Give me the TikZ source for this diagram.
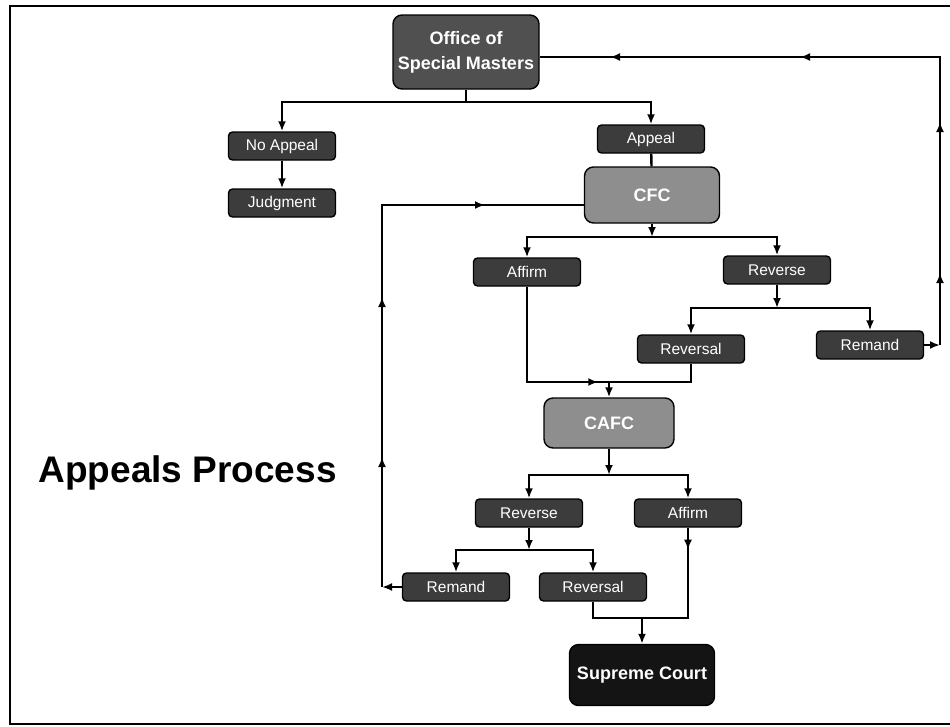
\documentclass[tikz,border=0pt]{standalone}
\usepackage{fontspec}
\setmainfont{Liberation Sans}
\usetikzlibrary{arrows.meta,decorations.markings}
\definecolor{darkbox}{HTML}{3C3C3C}
\definecolor{osmgray}{HTML}{505050}
\definecolor{courtgray}{HTML}{8E8E8E}
\definecolor{topcourt}{HTML}{141414}
\tikzstyle{box}=[draw=black, line width=1.4pt, text=white, inner sep=0pt, align=center]
\tikzstyle{small}=[box, fill=darkbox, rounded corners=4pt, minimum width=107pt, minimum height=28pt, font=\fontsize{15.5}{18}\selectfont]
\tikzstyle{court}=[box, rounded corners=9pt, font=\bfseries\fontsize{18}{25}\selectfont]
\tikzstyle{link}=[line width=2.4pt]
\tikzset{tip/.style={postaction={decorate,decoration={markings,mark=at position #1 with {\arrow{>}}}}}}

\begin{document}
\begin{tikzpicture}[x=1pt, y=-1pt, >={Latex[length=10pt,width=8pt]}]
\useasboundingbox (0,0) rectangle (950,726);
\draw[line width=2.6pt] (950,6) -- (10,6) -- (10,724) -- (950,724);
\draw (35,482) node[anchor=base west, font=\bfseries\fontsize{37}{44}\selectfont] (T) {Appeals Process};

\draw (466,52) node[court, fill=osmgray, minimum width=146pt, minimum height=74pt] (OSM) {Office of\\Special Masters};
\draw (282,146) node[small] (NA) {No Appeal};
\draw (282,203) node[small] (J) {Judgment};
\draw (651,139) node[small] (A) {Appeal};
\draw (652,195) node[court, fill=courtgray, minimum width=135pt, minimum height=56pt] (CFC) {CFC};
\draw (527,272) node[small] (AF1) {Affirm};
\draw (777,270) node[small] (RV1) {Reverse};
\draw (691,349) node[small] (RL1) {Reversal};
\draw (870,345) node[small] (RM1) {Remand};
\draw (609,423) node[court, fill=courtgray, minimum width=130pt, minimum height=50pt] (CAFC) {CAFC};
\draw (529,513) node[small] (RV2) {Reverse};
\draw (688,513) node[small] (AF2) {Affirm};
\draw (456,587) node[small] (RM2) {Remand};
\draw (593,587) node[small] (RL2) {Reversal};
\draw (642,675) node[court, fill=topcourt, minimum width=145pt, minimum height=61pt] (SC) {Supreme Court};

% splits and merges
\coordinate (S1) at (466,102);
\coordinate (S2) at (652,237);
\coordinate (S3) at (777,308);
\coordinate (M1) at (609,382);
\coordinate (S4) at (609,475);
\coordinate (S5) at (529,550);
\coordinate (M2) at (642,618);

\draw[link] (OSM) -- (S1);
\draw[link,->] (S1) -| (NA);
\draw[link,->] (S1) -| (A);
\draw[link,->] (NA) -- (J);
\draw[link] (A) -- (CFC);

\draw[link,->] (CFC) -- (S2);
\draw[link,->] (S2) -| (AF1);
\draw[link,->] (S2) -| (RV1);
\draw[link,->] (RV1) -- (S3);
\draw[link,->] (S3) -| (RL1);
\draw[link,->] (S3) -| (RM1);
\draw[link,tip=0.6] (AF1) -- (AF1 |- M1) -- (RL1 |- M1) -- (RL1);
\draw[link,->] (M1) -- (CAFC);

\draw[link,->] (CAFC) -- (S4);
\draw[link,->] (S4) -| (RV2);
\draw[link,->] (S4) -| (AF2);
\draw[link,->] (RV2) -- (S5);
\draw[link,->] (S5) -| (RM2);
\draw[link,->] (S5) -| (RL2);
\draw[link,tip=22pt] (AF2) -- (AF2 |- M2) -- (RL2 |- M2) -- (RL2);
\draw[link,->] (M2) -- (SC);

% remand loops
\coordinate (R1) at (940,345);
\coordinate (R2) at (940,57);
\draw[link,->] (RM1) -- (R1);
\draw[link,tip=72pt,tip=223pt,tip=428pt,tip=618pt] (R1) -- (R2) -- (R2 -| OSM.east);
\coordinate (L1) at (382,587);
\coordinate (L2) at (382,205);
\draw[link,->] (RM2) -- (L1);
\draw[link,tip=130pt,tip=290pt,tip=485pt] (L1) -- (L2) -- (L2 -| CFC.west);
\end{tikzpicture}
\end{document}
